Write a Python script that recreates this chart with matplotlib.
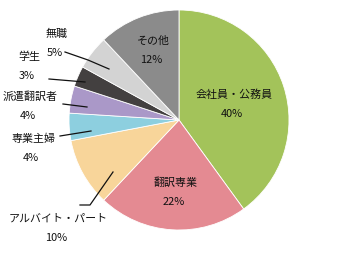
import matplotlib
matplotlib.use("Agg")
import matplotlib.pyplot as plt

plt.rcParams['font.family'] = ['Noto Sans CJK JP', 'DejaVu Sans']

# ── Data (clockwise from 12 o'clock) ────────────────────────────────────────
categories = ['会社員・公務員', '翻訳専業', 'アルバイト・パート', '専業主婦',
              '派遣翻訳者', '学生', '無職', 'その他']
shares     = [40, 22, 10, 4, 4, 3, 5, 12]
colors     = ['#A3C35A', '#E48A92', '#F8D59A', '#8DCFDF',
              '#AA98C8', '#434040', '#D3D3D3', '#8B8B8B']

# ── Layout (figure pixels, y measured from top) ─────────────────────────────
W, H = 360, 255
CX, CY, R = 179, 121, 110

# label text centre, and optional leader line (pixel coordinates)
label_pos = {
    '会社員・公務員':  (234, 95, None),
    '翻訳専業':       (176, 183, None),
    'アルバイト・パート': (58, 219, [(80, 206), (90, 206), (113, 173)]),
    '専業主婦':       (33, 139, [(60, 137), (91, 132)]),
    '派遣翻訳者':     (30, 97, [(63, 105), (87, 108)]),
    '学生':          (29, 57, [(49, 80), (85, 83)]),
    '無職':          (57, 34, [(65, 53), (88, 61), (109, 70)]),
    'その他':        (153, 41, None),
}


def fy(y):
    return H - y


fig = plt.figure(figsize=(W / 100, H / 100), dpi=100)
ax = fig.add_axes([0, 0, 1, 1])
ax.pie(shares, colors=colors, startangle=90, counterclock=False,
       center=(CX, fy(CY)), radius=R, frame=True,
       wedgeprops=dict(edgecolor='white', linewidth=0.6))
ax.set_xlim(0, W)
ax.set_ylim(0, H)
ax.set_aspect('equal')
ax.axis('off')

for name, share in zip(categories, shares):
    x, y, line = label_pos[name]
    ax.text(x, fy(y), name, ha='center', va='center', fontsize=7.9, color='#111111')
    ax.text(x - 2, fy(y + 19), f'{share}%', ha='center', va='center',
            fontsize=7.9, color='#111111')
    if line:
        ax.plot([p[0] for p in line], [fy(p[1]) for p in line],
                color='#111111', lw=0.9)

fig.savefig('out.png', dpi=100)
